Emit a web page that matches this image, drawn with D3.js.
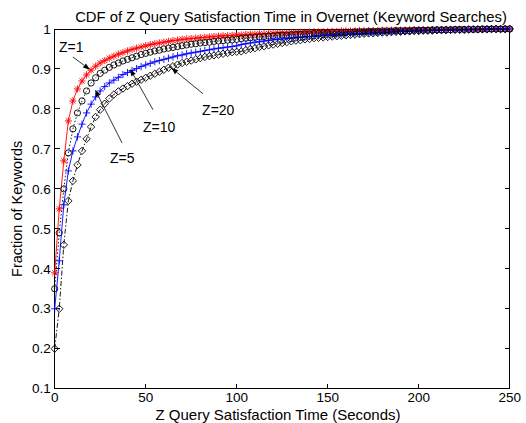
<!DOCTYPE html>
<html lang="en">
<head>
<meta charset="UTF-8">
<title>CDF of Z Query Satisfaction Time</title>
<script src="https://d3js.org/d3.v7.min.js"></script>
<style>
  body { margin: 0; background: #fff; }
  text { font-family: "Liberation Sans", Arial, Helvetica, sans-serif; fill: #000; }
</style>
</head>
<body>
<svg width="526" height="423"></svg>
<script>
// sample times (seconds), every 2.5 s
var times = d3.range(0, 250.01, 2.5);

var xTicks = [0, 50, 100, 150, 200, 250];
var yTicks = [0.1, 0.2, 0.3, 0.4, 0.5, 0.6, 0.7, 0.8, 0.9, 1];
var yTickLabels = ["0.1", "0.2", "0.3", "0.4", "0.5", "0.6", "0.7", "0.8", "0.9", "1"];

// Z=1  (red, *)
var z1 = [0.39,0.55,0.67,0.77,0.82,0.85,0.87,0.885,0.897,0.907,0.915,0.921,0.927,0.932,0.937,0.941,0.945,0.949,0.952,0.955,0.958,
  0.961,0.963,0.965,0.967,0.969,0.971,0.972,0.974,0.975,0.976,0.977,0.978,0.979,0.980,0.981,0.982,0.983,0.983,0.984,0.985,
  0.985,0.986,0.987,0.987,0.988,0.988,0.989,0.989,0.990,0.990,0.990,0.991,0.991,0.992,0.992,0.992,0.993,0.993,0.993,0.994,
  0.994,0.994,0.995,0.995,0.995,0.995,0.996,0.996,0.996,0.996,0.996,0.997,0.997,0.997,0.997,0.997,0.997,0.998,0.998,0.998,
  0.998,0.998,0.998,0.998,0.998,0.999,0.999,0.999,0.999,0.999,0.999,0.999,0.999,0.999,0.999,1,1,1,1,1];

// Z=5  (black, o)
var z5 = [0.35,0.49,0.60,0.69,0.75,0.79,0.82,0.845,0.865,0.878,0.889,0.897,0.904,0.910,0.915,0.920,0.924,0.928,0.932,0.936,0.939,
  0.942,0.945,0.947,0.950,0.952,0.954,0.956,0.958,0.960,0.962,0.963,0.965,0.966,0.967,0.969,0.970,0.971,0.972,0.973,0.974,
  0.976,0.977,0.978,0.979,0.980,0.981,0.982,0.983,0.984,0.985,0.985,0.986,0.987,0.987,0.988,0.988,0.989,0.989,0.990,0.990,
  0.991,0.991,0.991,0.992,0.992,0.993,0.993,0.993,0.994,0.994,0.994,0.995,0.995,0.995,0.996,0.996,0.996,0.996,0.997,0.997,
  0.997,0.997,0.998,0.998,0.998,0.998,0.998,0.999,0.999,0.999,0.999,0.999,0.999,1,1,1,1,1,1,1];

// Z=10 (blue, +)
var z10 = [0.30,0.42,0.56,0.645,0.695,0.73,0.762,0.79,0.812,0.83,0.845,0.856,0.865,0.872,0.879,0.886,0.891,0.896,0.901,0.906,0.91,
  0.914,0.918,0.921,0.924,0.927,0.930,0.933,0.935,0.938,0.940,0.942,0.944,0.946,0.948,0.950,0.952,0.953,0.955,0.956,0.958,
  0.961,0.963,0.965,0.967,0.968,0.970,0.971,0.973,0.974,0.975,0.976,0.977,0.978,0.979,0.980,0.981,0.982,0.983,0.984,0.985,
  0.985,0.986,0.987,0.987,0.988,0.989,0.989,0.990,0.990,0.991,0.991,0.992,0.992,0.993,0.993,0.994,0.994,0.994,0.995,0.995,
  0.996,0.996,0.996,0.997,0.997,0.997,0.997,0.998,0.998,0.998,0.998,0.999,0.999,0.999,0.999,1,1,1,1,1];

// Z=20 (black, diamond)
var z20 = [0.20,0.30,0.46,0.57,0.62,0.66,0.695,0.725,0.755,0.78,0.798,0.813,0.826,0.836,0.844,0.851,0.857,0.863,0.868,0.873,0.878,
  0.883,0.888,0.893,0.898,0.903,0.907,0.911,0.915,0.918,0.921,0.924,0.927,0.930,0.932,0.934,0.936,0.938,0.940,0.942,0.943,
  0.944,0.947,0.950,0.952,0.955,0.957,0.959,0.961,0.963,0.965,0.967,0.969,0.971,0.972,0.974,0.975,0.977,0.978,0.979,0.980,
  0.981,0.982,0.983,0.984,0.985,0.986,0.987,0.988,0.989,0.989,0.990,0.991,0.991,0.992,0.993,0.993,0.994,0.994,0.995,0.995,
  0.996,0.996,0.996,0.997,0.997,0.997,0.998,0.998,0.998,0.998,0.999,0.999,0.999,0.999,0.999,1,1,1,1,1];

var seriesNames = ["Z=1", "Z=5", "Z=10", "Z=20"];
var seriesValues = [z1, z5, z10, z20];

// annotation labels: text anchor point and arrow (from -> tip), in data units
var annotations = [
  { label: "Z=1",  tx: 2.4,  ty: 0.943, fx: 10,   fy: 0.93,  px: 19.4, py: 0.898 },
  { label: "Z=5",  tx: 30.4, ty: 0.665, fx: 37,   fy: 0.715, px: 22.2, py: 0.848 },
  { label: "Z=10", tx: 48.5, ty: 0.743, fx: 54,   fy: 0.798, px: 41.4, py: 0.90 },
  { label: "Z=20", tx: 81,   ty: 0.785, fx: 81.5, fy: 0.838, px: 64,   py: 0.903 }
];

var styles = [
  { color: "#ff0000", dash: null,    marker: "star" },
  { color: "#000000", dash: "1.5,2", marker: "circle" },
  { color: "#0000ff", dash: null,    marker: "plus" },
  { color: "#000000", dash: "5,2,1.5,2", marker: "diamond" }
];

var svg = d3.select("svg");
var margin = { left: 54.7, right: 16.3, top: 29, bottom: 34.3 };
var width = 526 - margin.left - margin.right,
    height = 423 - margin.top - margin.bottom;

svg.append("rect").attr("width", 526).attr("height", 423).attr("fill", "#fff");

var x = d3.scaleLinear().domain([0, 250]).range([margin.left, margin.left + width]);
var y = d3.scaleLinear().domain([0.1, 1]).range([margin.top + height, margin.top]);

// axes box + inward ticks (top/right mirrored)
var axes = svg.append("g").attr("shape-rendering", "crispEdges");
axes.append("rect")
    .attr("x", x(0)).attr("y", y(1))
    .attr("width", x(250) - x(0)).attr("height", y(0.1) - y(1))
    .attr("fill", "none").attr("stroke", "#000");

var tl = 5;
xTicks.forEach(function(t) {
  axes.append("line").attr("x1", x(t)).attr("x2", x(t)).attr("y1", y(0.1)).attr("y2", y(0.1) - tl).attr("stroke", "#000");
  axes.append("line").attr("x1", x(t)).attr("x2", x(t)).attr("y1", y(1)).attr("y2", y(1) + tl).attr("stroke", "#000");
  svg.append("text").attr("x", x(t)).attr("y", y(0.1) + 13.5)
    .attr("text-anchor", "middle").attr("font-size", 13.5).text(t);
});
yTicks.forEach(function(v, i) {
  axes.append("line").attr("x1", x(0)).attr("x2", x(0) + tl).attr("y1", y(v)).attr("y2", y(v)).attr("stroke", "#000");
  axes.append("line").attr("x1", x(250)).attr("x2", x(250) - tl).attr("y1", y(v)).attr("y2", y(v)).attr("stroke", "#000");
  svg.append("text").attr("x", x(0) - 4).attr("y", y(v)).attr("dy", "0.35em")
    .attr("text-anchor", "end").attr("font-size", 13.5).text(yTickLabels[i]);
});

function markerPath(type, cx, cy) {
  var s;
  if (type === "star") {
    s = 3.6;
    var d = s * 0.72;
    return "M" + (cx - s) + "," + cy + "H" + (cx + s) +
           "M" + cx + "," + (cy - s) + "V" + (cy + s) +
           "M" + (cx - d) + "," + (cy - d) + "L" + (cx + d) + "," + (cy + d) +
           "M" + (cx - d) + "," + (cy + d) + "L" + (cx + d) + "," + (cy - d);
  }
  if (type === "plus") {
    s = 3.6;
    return "M" + (cx - s) + "," + cy + "H" + (cx + s) + "M" + cx + "," + (cy - s) + "V" + (cy + s);
  }
  if (type === "diamond") {
    s = 3.7;
    return "M" + cx + "," + (cy - s) + "L" + (cx + s) + "," + cy + "L" + cx + "," + (cy + s) + "L" + (cx - s) + "," + cy + "Z";
  }
  s = 3.1;
  return "M" + (cx - s) + "," + cy + "A" + s + "," + s + " 0 1,0 " + (cx + s) + "," + cy +
         "A" + s + "," + s + " 0 1,0 " + (cx - s) + "," + cy + "Z";
}

var line = d3.line()
    .x(function(d) { return x(d[0]); })
    .y(function(d) { return y(d[1]); });

seriesValues.forEach(function(vals, k) {
  var pts = times.map(function(t, i) { return [t, vals[i]]; });
  var st = styles[k];
  var g = svg.append("g").attr("class", "series").attr("data-name", seriesNames[k]);
  g.append("path")
    .attr("d", line(pts))
    .attr("fill", "none")
    .attr("stroke", st.color)
    .attr("stroke-width", 0.9)
    .attr("stroke-dasharray", st.dash);
  g.selectAll("path.m")
    .data(pts)
    .enter().append("path")
    .attr("class", "m")
    .attr("d", function(d) { return markerPath(st.marker, x(d[0]), y(d[1])); })
    .attr("fill", "none")
    .attr("stroke", st.color)
    .attr("stroke-width", 0.9);
});

// annotations with arrows
annotations.forEach(function(a) {
  var x1 = x(a.fx), y1 = y(a.fy), x2 = x(a.px), y2 = y(a.py);
  var ang = Math.atan2(y2 - y1, x2 - x1), hl = 7, hw = 2.5;
  var bx = x2 - hl * Math.cos(ang), by = y2 - hl * Math.sin(ang);
  svg.append("line").attr("x1", x1).attr("y1", y1).attr("x2", bx).attr("y2", by)
    .attr("stroke", "#000").attr("stroke-width", 0.8);
  svg.append("path")
    .attr("d", "M" + x2 + "," + y2 +
      "L" + (bx + hw * Math.sin(ang)) + "," + (by - hw * Math.cos(ang)) +
      "L" + (bx - hw * Math.sin(ang)) + "," + (by + hw * Math.cos(ang)) + "Z")
    .attr("fill", "#000");
  svg.append("text").attr("x", x(a.tx)).attr("y", y(a.ty))
    .attr("font-size", 14).text(a.label);
});

// title and axis labels
svg.append("text").attr("x", 291).attr("y", 22)
  .attr("text-anchor", "middle").attr("font-size", 14.8)
  .text("CDF of Z Query Satisfaction Time in Overnet (Keyword Searches)");
svg.append("text").attr("x", 278).attr("y", 419.5)
  .attr("text-anchor", "middle").attr("font-size", 15)
  .text("Z Query Satisfaction Time (Seconds)");
svg.append("text")
  .attr("transform", "translate(22," + (margin.top + height / 2) + ")rotate(-90)")
  .attr("text-anchor", "middle").attr("font-size", 14.5)
  .text("Fraction of Keywords");
</script>
</body>
</html>
